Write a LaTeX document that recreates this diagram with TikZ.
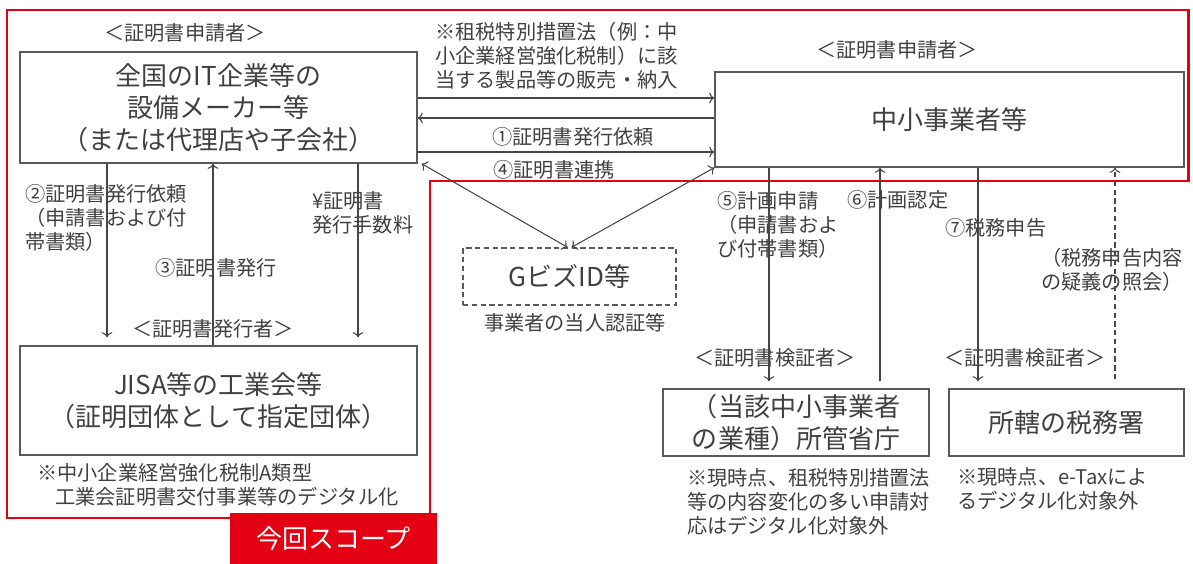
\documentclass[tikz,border=0pt]{standalone}
\usepackage{fontspec}
\setmainfont{Noto Sans CJK JP}
\usetikzlibrary{arrows.meta}

\definecolor{txtgray}{RGB}{64,64,64}
\definecolor{boxgray}{RGB}{90,90,90}
\definecolor{linegray}{RGB}{70,70,70}
\definecolor{scopered}{RGB}{228,0,18}

\newcommand{\boxfont}{\fontsize{14.8}{18.2}\selectfont}
\newcommand{\lblfont}{\fontsize{11.5}{13.6}\selectfont}

\begin{document}
\begin{tikzpicture}[x=0.02cm, y=-0.02cm,
    every node/.style={text=txtgray, inner sep=0pt},
    box/.style={draw=boxgray, line width=0.8pt, align=center, font=\boxfont},
    lbl/.style={font=\lblfont, align=left},
    link/.style={draw=linegray, line width=0.6pt, ->}]
  \useasboundingbox (0,0) rectangle (1193,564);

  % scope of this project
  \draw[scopered, line width=1.7pt] (7,10) -- (1188,10) -- (1188,181)
    -- (430,181) -- (430,518) -- (7,518) -- cycle;
  \node[fill=scopered, text=white, minimum width=4.14cm, minimum height=1.02cm,
    font=\boxfont] (scope) at (333.5,538.5) {今回スコープ};

  % boxes
  \path (218.5,107.5) node[box, minimum width=7.94cm, minimum height=2.22cm] (apply)
      {全国のIT企業等の\\設備メーカー等\\（または代理店や子会社）}
    (949.5,119.5) node[box, minimum width=9.38cm, minimum height=1.9cm] (smb) {中小事業者等}
    (218.5,400.5) node[box, minimum width=7.94cm, minimum height=2.18cm] (jisa)
      {JISA等の工業会等\\（証明団体として指定団体）}
    (569.5,276.5) node[box, densely dashed, minimum width=4.26cm, minimum height=1.14cm] (gbiz) {GビズID等}
    (796,422.5) node[box, minimum width=5.32cm, minimum height=1.34cm] (ministry)
      {（当該中小事業者\\の業種）所管省庁}
    (1066.5,422.5) node[box, minimum width=4.7cm, minimum height=1.34cm] (taxoff) {所轄の税務署};

  % role labels
  \path (185,33) node[lbl] (roleApply) {＜証明書申請者＞}
    (897,50) node[lbl] (roleSmb) {＜証明書申請者＞}
    (213,329) node[lbl] (roleIssuer) {＜証明書発行者＞}
    (775,358) node[lbl] (roleVerA) {＜証明書検証者＞}
    (1025,358) node[lbl] (roleVerB) {＜証明書検証者＞};

  % flow labels
  \path (435,56) node[lbl, anchor=west] (sales)
      {※租税特別措置法（例：中\\小企業経営強化税制）に該\\当する製品等の販売・納入}
    (573,137) node[lbl] (req1) {①証明書発行依頼}
    (554,170) node[lbl] (link4) {④証明書連携}
    (25,218) node[lbl, anchor=west] (req2) {②証明書発行依頼\\（申請書および付\\帯書類）}
    (216,268) node[lbl] (issue3) {③証明書発行}
    (312,213) node[lbl, anchor=west] (fee) {¥証明書\\発行手数料}
    (575,323) node[lbl] (gbizNote) {事業者の当人認証等}
    (717,225) node[lbl, anchor=west] (plan5) {⑤計画申請\\（申請書およ\\び付帯書類）}
    (847,200) node[lbl, anchor=west] (approve6) {⑥計画認定}
    (945,228) node[lbl, anchor=west] (tax7) {⑦税務申告}
    (1183,270) node[lbl, anchor=east] (inquiry) {（税務申告内容\\の疑義の照会）}
    (37,485) node[lbl, anchor=west] (noteJisa)
      {※中小企業経営強化税制A類型\\\hspace*{0.36cm}工業会証明書交付事業等のデジタル化}
    (687,502) node[lbl, anchor=west] (noteMin)
      {※現時点、租税特別措置法\\等の内容変化の多い申請対\\応はデジタル化対象外}
    (957,489) node[lbl, anchor=west] (noteTax) {※現時点、e-Taxによ\\るデジタル化対象外};

  % connectors
  \draw[link] (apply.east |- 0,98) -- (smb.west |- 0,98);
  \draw[link] (smb.west |- 0,118) -- (apply.east |- 0,118);
  \draw[link] (apply.east |- 0,152) -- (smb.west |- 0,152);
  \draw[link, <->] ([xshift=0.08cm]apply.south east) -- ([xshift=-0.04cm]gbiz.north);
  \draw[link, <->] (smb.south west) -- ([xshift=0.04cm]gbiz.north);

  \draw[link, shorten >=0.16cm] (apply.south -| 107,0) -- (jisa.north -| 107,0);
  \draw[link] (jisa.north -| 213,0) -- (apply.south -| 213,0);
  \draw[link, shorten >=0.16cm] (apply.south -| 358,0) -- (jisa.north -| 358,0);

  \draw[link, shorten >=0.14cm] (smb.south -| 769,0) -- (ministry.north -| 769,0);
  \draw[link, shorten <=0.14cm] (ministry.north -| 880,0) -- (smb.south -| 880,0);
  \draw[link, shorten >=0.14cm] (smb.south -| 978,0) -- (taxoff.north -| 978,0);
  \draw[link, densely dashed, shorten <=0.18cm] (taxoff.north -| 1115,0) -- (smb.south -| 1115,0);
\end{tikzpicture}
\end{document}
